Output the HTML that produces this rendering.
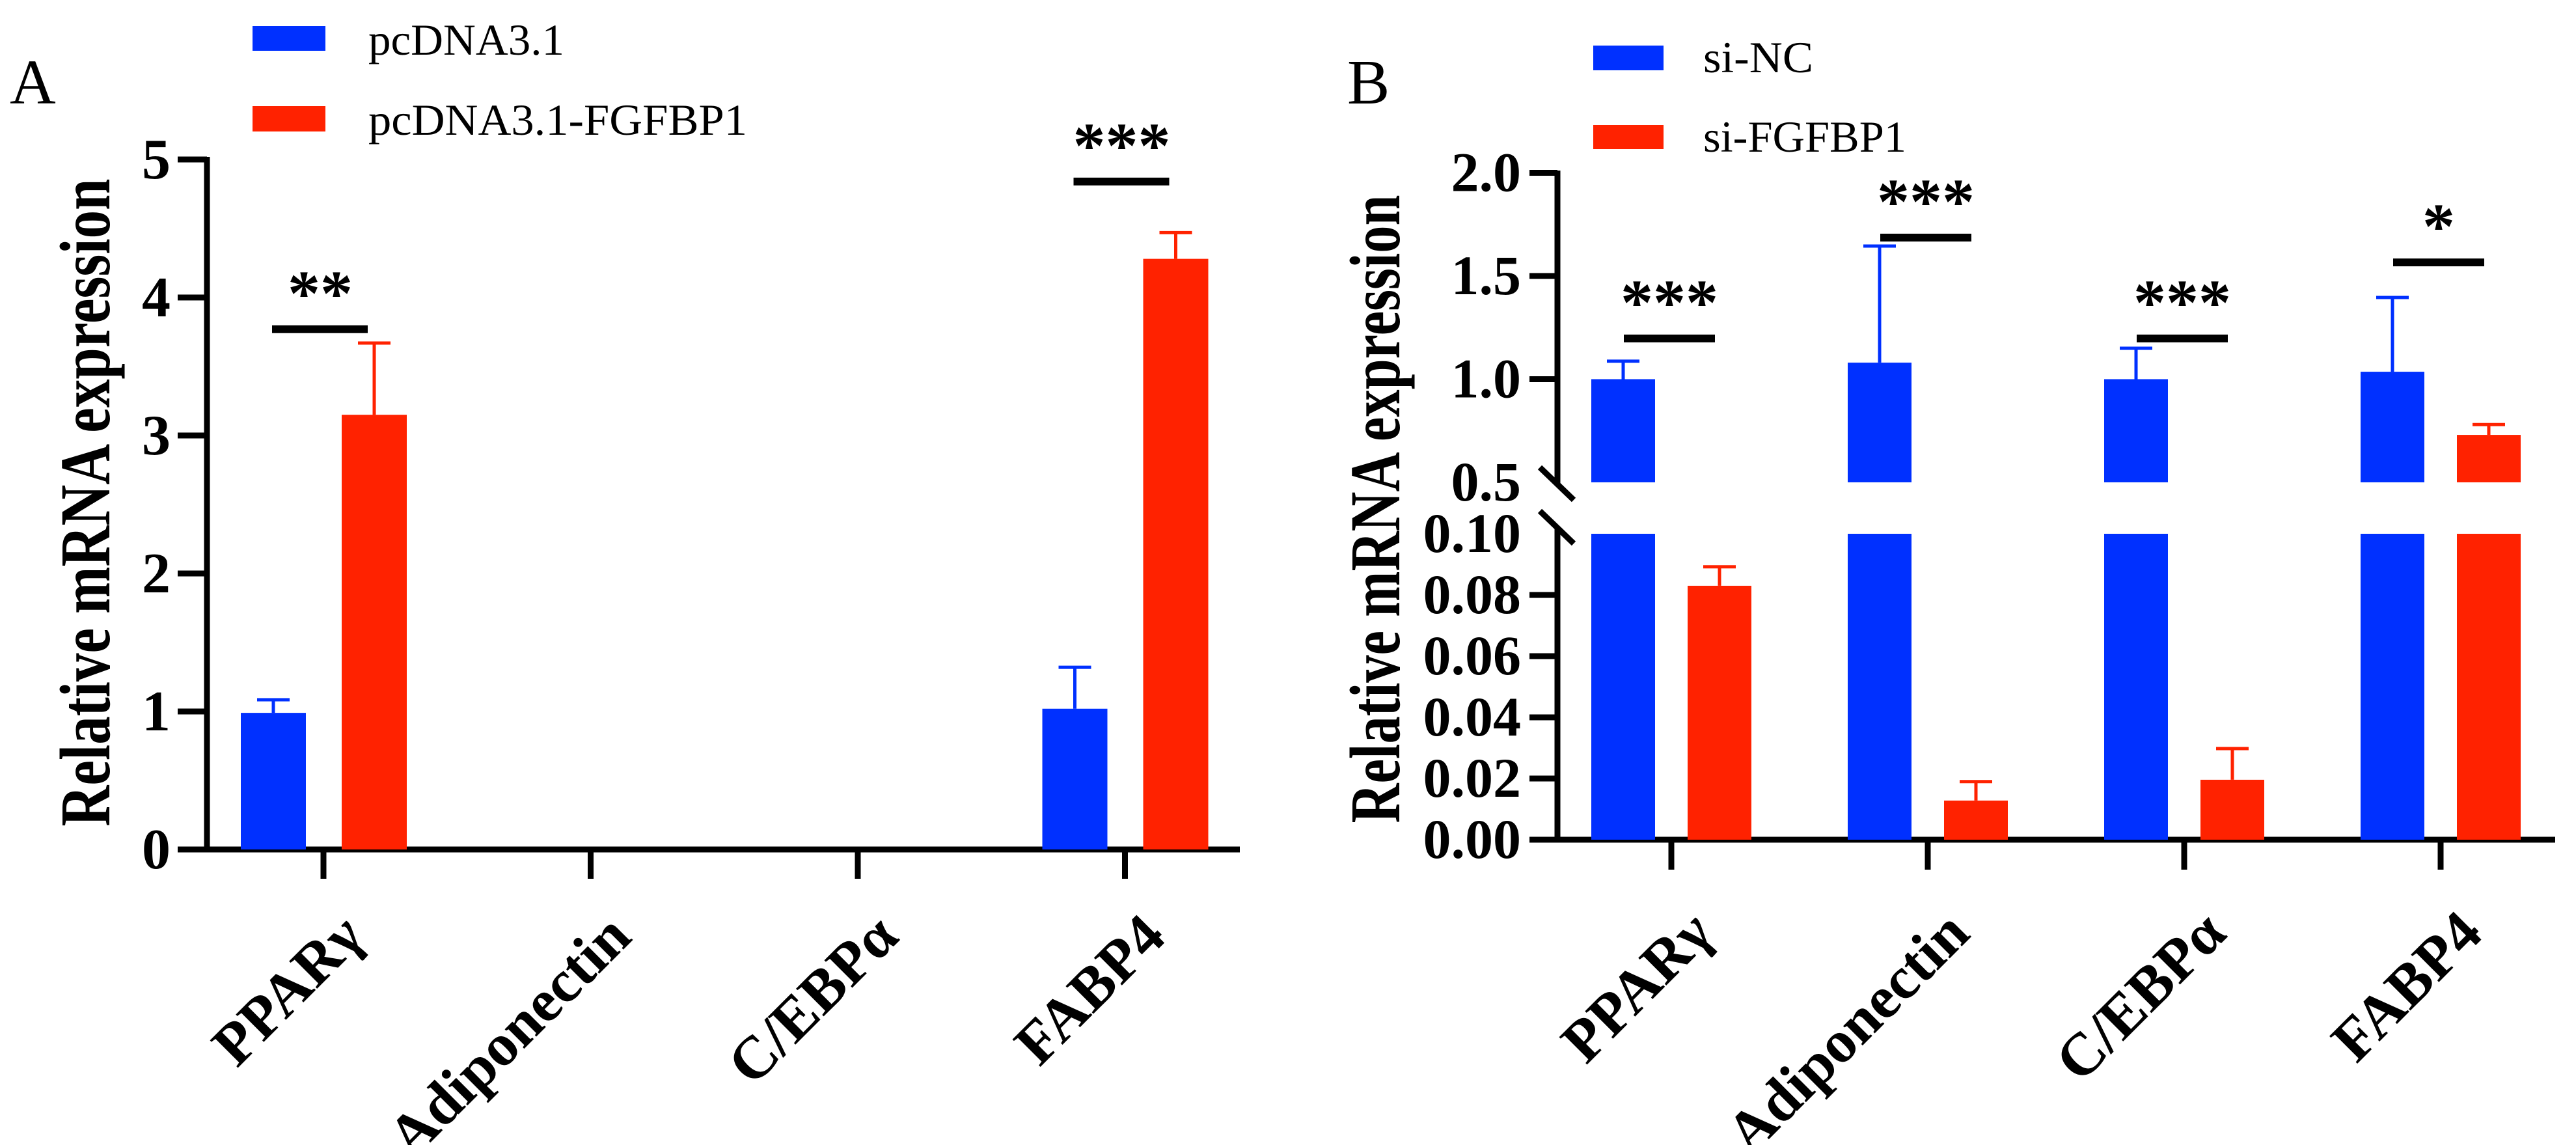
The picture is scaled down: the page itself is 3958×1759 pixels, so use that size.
<!DOCTYPE html>
<html><head><meta charset="utf-8"><style>
html,body{margin:0;padding:0;background:#fff}
svg{display:block}
text{font-family:"Liberation Serif","Times New Roman",serif}
</style></head><body>
<svg id="fig" width="3958" height="1759" viewBox="0 0 3958 1759" xmlns="http://www.w3.org/2000/svg">
<rect width="3958" height="1759" fill="#fff"/>
<text x="15" y="159" font-size="98">A</text>
<text x="2070" y="159" font-size="98">B</text>
<g>
<rect x="388" y="40" width="112" height="38" fill="#0030ff"/>
<text x="566" y="84" font-size="68" textLength="301" lengthAdjust="spacingAndGlyphs">pcDNA3.1</text>
<rect x="388" y="163" width="112" height="39" fill="#ff2200"/>
<text x="566" y="207" font-size="68" textLength="582" lengthAdjust="spacingAndGlyphs">pcDNA3.1-FGFBP1</text>
</g>
<g>
<rect x="2448" y="70" width="108" height="38" fill="#0030ff"/>
<text x="2617" y="111" font-size="68" textLength="169" lengthAdjust="spacingAndGlyphs">si-NC</text>
<rect x="2448" y="192" width="108" height="37" fill="#ff2200"/>
<text x="2617" y="233" font-size="68" textLength="312" lengthAdjust="spacingAndGlyphs">si-FGFBP1</text>
</g>
<text transform="translate(168,772) rotate(-90)" text-anchor="middle" font-size="110" font-weight="bold" textLength="995" lengthAdjust="spacingAndGlyphs">Relative mRNA expression</text>
<text transform="translate(2150,782) rotate(-90)" text-anchor="middle" font-size="110" font-weight="bold" textLength="965" lengthAdjust="spacingAndGlyphs">Relative mRNA expression</text>
<g id="ga"></g>
<g id="gb"></g>
</svg>
<script>
// ---- Panel A data ----
const catsA = ["PPARγ","Adiponectin","C/EBPα","FABP4"];
const blueA = [0.99, null, null, 1.02];
const blueErrA = [0.095, null, null, 0.30];
const redA = [3.15, null, null, 4.28];
const redErrA = [0.52, null, null, 0.19];
const sigA = ["**", "", "", "***"];
const sigLevelA = [3.77, null, null, 4.84];
const ticksA = [0,1,2,3,4,5];
// ---- Panel B data ----
const catsB = ["PPARγ","Adiponectin","C/EBPα","FABP4"];
const blueB = [1.0, 1.08, 1.0, 1.036];
const blueErrB = [0.087, 0.565, 0.15, 0.36];
const redB = [0.083, 0.0128, 0.0196, 0.73];
const redErrB = [0.0062, 0.0062, 0.0102, 0.05];
const sigB = ["***","***","***","*"];
const sigLevelB = [1.197, 1.686, 1.197, 1.566];
const ticksBUpper = [0.5,1.0,1.5,2.0];
const ticksBLower = [0,0.02,0.04,0.06,0.08,0.10];

const NS="http://www.w3.org/2000/svg";
function mk(parent,tag,attrs){const e=document.createElementNS(NS,tag);for(const k in attrs)e.setAttribute(k,attrs[k]);parent.appendChild(e);return e;}
const BLUE="#0030ff", RED="#ff2200";

// Panel A scales
const yA = v => 1305 - v*212;
const xA = i => 497 + 410.5*i;
const ga = document.getElementById('ga');
let e;
e=mk(ga,'line',{x1:318,y1:241,x2:318,y2:1309,stroke:'#000','stroke-width':9});


e=mk(ga,'line',{x1:273,y1:1305,x2:1905,y2:1305,stroke:'#000','stroke-width':9});


ticksA.forEach(t=>{
  e=mk(ga,'line',{x1:273,y1:yA(t),x2:318,y2:yA(t),stroke:'#000','stroke-width':9});
  
  
  e=mk(ga,'text',{x:262,y:yA(t)+29,'text-anchor':'end','font-size':88,'font-weight':'bold'});
  e.textContent=String(t);
  
  
});
catsA.forEach((c,i)=>{
  const x=xA(i);
  e=mk(ga,'line',{x1:x,y1:1305,x2:x,y2:1350,stroke:'#000','stroke-width':9});
  
  
  e=mk(ga,'text',{transform:`translate(${x+66},1443) rotate(-45)`,'text-anchor':'end','font-size':92,'font-weight':'bold'});
  e.textContent=c;
  
  
  if(blueA[i]!==null){
    const bx=x-77, rx=x+78;
    e=mk(ga,'line',{x1:bx,y1:yA(blueA[i]),x2:bx,y2:yA(blueA[i]+blueErrA[i]),stroke:BLUE,'stroke-width':5});
    
    
    e=mk(ga,'line',{x1:bx-25,y1:yA(blueA[i]+blueErrA[i]),x2:bx+25,y2:yA(blueA[i]+blueErrA[i]),stroke:BLUE,'stroke-width':5});
    
    
    e=mk(ga,'rect',{x:bx-50,y:yA(blueA[i]),width:100,height:yA(0)-yA(blueA[i]),fill:BLUE});
    
    
    e=mk(ga,'line',{x1:rx,y1:yA(redA[i]),x2:rx,y2:yA(redA[i]+redErrA[i]),stroke:RED,'stroke-width':5});
    
    
    e=mk(ga,'line',{x1:rx-25,y1:yA(redA[i]+redErrA[i]),x2:rx+25,y2:yA(redA[i]+redErrA[i]),stroke:RED,'stroke-width':5});
    
    
    e=mk(ga,'rect',{x:rx-50,y:yA(redA[i]),width:100,height:yA(0)-yA(redA[i]),fill:RED});
    
    
  }
  if(sigLevelA[i]!==null){
    const sy=yA(sigLevelA[i]);
    e=mk(ga,'line',{x1:x-79,y1:sy,x2:x+68,y2:sy,stroke:'#000','stroke-width':12});
    
    
    e=mk(ga,'text',{x:x-5,y:sy-22,'text-anchor':'middle','font-size':100,'font-weight':'bold'});
    e.textContent=sigA[i];
    
    
  }
});

// Panel B scales (broken axis)
const yU = v => 741 - (v-0.5)*317;
const yL = v => 1290 - v*4700;
const yB = v => v>0.1 ? yU(v) : yL(v);
const xB = i => 2568 + 394*i;
const gb=document.getElementById('gb');
e=mk(gb,'line',{x1:2393,y1:262,x2:2393,y2:742,stroke:'#000','stroke-width':9});


e=mk(gb,'line',{x1:2393,y1:812,x2:2393,y2:1294,stroke:'#000','stroke-width':9});


e=mk(gb,'line',{x1:2366,y1:718,x2:2418,y2:768,stroke:'#000','stroke-width':9});


e=mk(gb,'line',{x1:2366,y1:785,x2:2418,y2:835,stroke:'#000','stroke-width':9});


e=mk(gb,'line',{x1:2350,y1:1290,x2:3926,y2:1290,stroke:'#000','stroke-width':9});


ticksBUpper.forEach(t=>{
  if(t>0.5){
    e=mk(gb,'line',{x1:2350,y1:yU(t),x2:2393,y2:yU(t),stroke:'#000','stroke-width':9});
    
    
  }
  e=mk(gb,'text',{x:2337,y:yU(t)+28,'text-anchor':'end','font-size':86,'font-weight':'bold'});
  e.textContent=t.toFixed(1);
  
  
});
ticksBLower.forEach(t=>{
  if(t<0.1){
    e=mk(gb,'line',{x1:2350,y1:yL(t),x2:2393,y2:yL(t),stroke:'#000','stroke-width':9});
    
    
  }
  e=mk(gb,'text',{x:2337,y:yL(t)+28,'text-anchor':'end','font-size':86,'font-weight':'bold'});
  e.textContent=t.toFixed(2);
  
  
});
function barB(cx,v,err,col,nm){
  const top=v+err;
  e=mk(gb,'line',{x1:cx,y1:yB(v),x2:cx,y2:yB(top),stroke:col,'stroke-width':5});
  
  
  e=mk(gb,'line',{x1:cx-25,y1:yB(top),x2:cx+25,y2:yB(top),stroke:col,'stroke-width':5});
  
  
  if(v>0.5){
    e=mk(gb,'rect',{x:cx-49,y:yU(v),width:98,height:yU(0.5)-yU(v),fill:col});
    
    
  }
  const lv=Math.min(v,0.1);
  e=mk(gb,'rect',{x:cx-49,y:yL(lv),width:98,height:yL(0)-yL(lv),fill:col});
  
  
}
catsB.forEach((c,i)=>{
  const x=xB(i);
  e=mk(gb,'line',{x1:x,y1:1290,x2:x,y2:1336,stroke:'#000','stroke-width':9});
  
  
  e=mk(gb,'text',{transform:`translate(${x+68},1438) rotate(-45)`,'text-anchor':'end','font-size':92,'font-weight':'bold'});
  e.textContent=c;
  
  
  barB(x-74,blueB[i],blueErrB[i],BLUE,'si-nc');
  barB(x+74,redB[i],redErrB[i],RED,'si-fgfbp1');
  const sy=yU(sigLevelB[i]);
  e=mk(gb,'line',{x1:x-73,y1:sy,x2:x+67,y2:sy,stroke:'#000','stroke-width':12});
  
  
  e=mk(gb,'text',{x:x-3,y:sy-22,'text-anchor':'middle','font-size':100,'font-weight':'bold'});
  e.textContent=sigB[i];
  
  
});
</script>
</body></html>
